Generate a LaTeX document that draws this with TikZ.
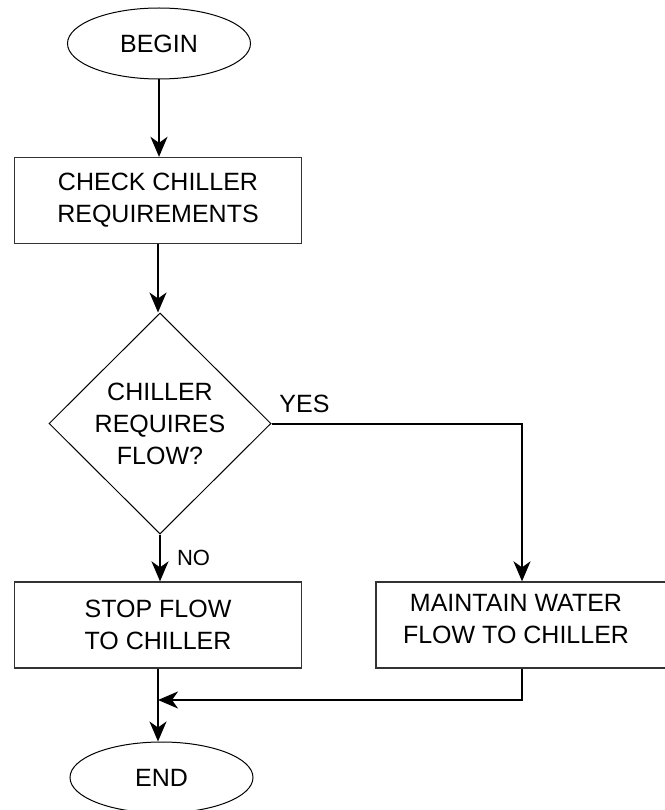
\documentclass[tikz,border=0pt]{standalone}
\usepackage{fontspec}
\setmainfont{Liberation Sans}
\usetikzlibrary{arrows.meta,shapes.geometric}
\begin{document}
\begin{tikzpicture}[x=1pt,y=-1pt,
  txt/.style={font=\fontsize{25}{32}\selectfont, align=center, inner sep=0pt},
  term/.style={ellipse, draw=black, line width=1pt, minimum width=183pt, minimum height=71pt, inner sep=0pt, font=\fontsize{25}{32}\selectfont},
  procbox/.style={rectangle, draw=black!80, line width=1.3pt, inner sep=0pt, minimum height=86pt, font=\fontsize{25}{32}\selectfont, align=center},
  decision/.style={diamond, draw=black, line width=1pt, minimum width=222pt, minimum height=221pt, inner sep=0pt, font=\fontsize{25}{32}\selectfont, align=center},
  flow/.style={line width=2pt, -{Stealth[length=20pt,width=17pt,inset=6pt]}},
  wire/.style={line width=2pt}]
\useasboundingbox (0,0) rectangle (664,810);

\node[term] (begin) at (159,43.5) {BEGIN};
\node[procbox, minimum width=287pt] (check) at (158,200.5) {CHECK CHILLER\\REQUIREMENTS};
\node[decision] (dec) at (160,423.5) {CHILLER\\REQUIRES\\FLOW?};
\node[procbox, minimum width=287pt] (stop) at (158,625) {STOP FLOW\\TO CHILLER};
\node[procbox, minimum width=292pt] (maint) at (522,625) {};
\node[txt] (maintt) at (516,619) {MAINTAIN WATER\\FLOW TO CHILLER};
\node[term] (endn) at (161.5,777.5) {END};

\node[txt] (yes) at (304.5,404) {YES};
\node[txt, font=\fontsize{22}{26}\selectfont] (no) at (193.5,558) {NO};

\coordinate (mj) at (158,700);

\draw[flow] (begin.south) -- (begin.south |- check.north);
\draw[flow] (check.south) -- (check.south |- dec.north);
\draw[flow] (dec.south) -- (dec.south |- stop.north);
\draw[flow] (dec.east) -| (maint.north);
\draw[flow] (stop.south) -- (stop.south |- endn.north);
\draw[flow] (maint.south) |- (mj);
\end{tikzpicture}
\end{document}
